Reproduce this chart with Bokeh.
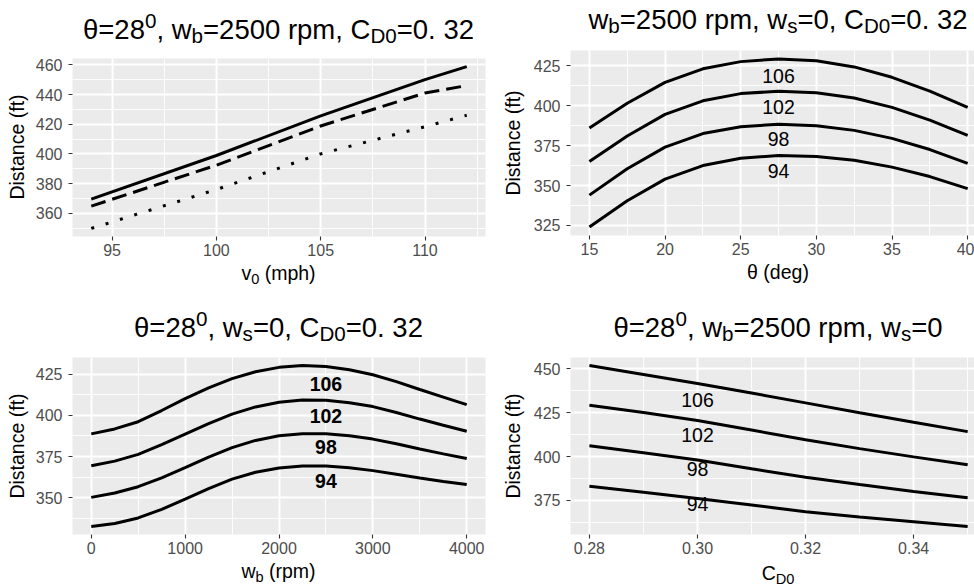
from bokeh.plotting import figure
from bokeh.models import Range1d, FixedTicker, PrintfTickFormatter, Div
from bokeh.layouts import column, row
from bokeh.core.properties import value
from bokeh.embed import file_html
from bokeh.resources import INLINE

FONT = "Liberation Sans"

# ---------------- data ----------------
# Panel 1: distance vs launch speed
v0 = [94, 100, 105, 110, 112]
dist_solid = [369.5, 398.9, 425.6, 450.0, 458.8]
dist_dashed = [364.8, 392.4, 418.8, 441.0, 446.0]
dist_dotted = [349.8, 376.0, 400.0, 418.3, 426.0]
p1_xticks = [95, 100, 105, 110]
p1_xminor = [97.5, 102.5, 107.5, 112.5]
p1_yticks = [360, 380, 400, 420, 440, 460]
p1_yminor = [350, 370, 390, 410, 430, 450]

curve_labels = ["106", "102", "98", "94"]

# Panel 2: distance vs launch angle
theta = [15, 17.5, 20, 22.5, 25, 27.5, 30, 32.5, 35, 37.5, 40]
th_106 = [386.0, 401.5, 414.5, 423.0, 427.5, 429.2, 428.0, 424.2, 417.7, 409.1, 398.9]
th_102 = [365.0, 381.0, 394.5, 403.0, 407.5, 409.0, 408.0, 404.7, 398.9, 390.9, 381.4]
th_98 = [344.0, 360.5, 374.0, 382.5, 386.8, 388.3, 387.4, 384.5, 379.5, 372.5, 363.9]
th_94 = [324.0, 340.5, 354.0, 362.5, 367.0, 368.8, 368.2, 365.8, 361.5, 355.6, 348.1]
th_lab_x = [27.5, 27.5, 27.5, 27.5]
th_lab_y = [418.7, 399.3, 379.3, 359.3]
p2_xticks = [15, 20, 25, 30, 35, 40]
p2_xminor = [12.5, 17.5, 22.5, 27.5, 32.5, 37.5, 42.5]
p2_yticks = [325, 350, 375, 400, 425]
p2_yminor = [312.5, 337.5, 362.5, 387.5, 412.5, 437.5]

# Panel 3: distance vs backspin
wb = [0, 250, 500, 750, 1000, 1250, 1500, 1750, 2000, 2250, 2500, 2750, 3000,
      3250, 3500, 3750, 4000]
wb_106 = [388.8, 391.8, 396.2, 403.0, 410.2, 416.8, 422.4, 426.6, 429.3, 430.4,
          429.8, 427.8, 424.8, 420.6, 415.8, 411.2, 406.6]
wb_102 = [369.4, 372.2, 376.3, 382.2, 388.6, 395.0, 400.8, 405.2, 408.0, 409.4,
          409.2, 407.8, 405.4, 401.8, 397.8, 394.0, 390.4]
wb_98 = [350.1, 352.8, 356.6, 362.0, 368.2, 374.6, 380.4, 384.8, 387.6, 388.9,
         388.8, 387.6, 385.6, 382.8, 379.6, 376.6, 373.8]
wb_94 = [332.4, 334.2, 337.6, 342.8, 349.0, 355.4, 361.2, 365.4, 368.0, 369.2,
         369.2, 368.2, 366.4, 364.2, 361.9, 359.8, 357.9]
wb_lab_x = [2500, 2500, 2500, 2500]
wb_lab_y = [419.0, 399.5, 380.5, 360.0]
p3_xticks = [0, 1000, 2000, 3000, 4000]
p3_xminor = [500, 1500, 2500, 3500]
p3_yticks = [350, 375, 400, 425]
p3_yminor = [337.5, 362.5, 387.5, 412.5]

# Panel 4: distance vs drag coefficient
cd0 = [0.28, 0.29, 0.30, 0.31, 0.32, 0.33, 0.34, 0.35]
cd_106 = [451.9, 446.8, 441.7, 436.2, 430.6, 425.0, 419.5, 414.2]
cd_102 = [429.3, 425.1, 420.5, 415.1, 409.6, 404.5, 399.8, 395.3]
cd_98 = [406.2, 402.2, 398.0, 393.0, 388.2, 384.0, 380.1, 376.5]
cd_94 = [383.0, 379.6, 376.1, 372.3, 368.5, 365.5, 362.8, 360.1]
cd_lab_x = [0.30, 0.30, 0.30, 0.30]
cd_lab_y = [432.4, 412.5, 392.6, 372.7]
p4_xticks = [0.28, 0.30, 0.32, 0.34]
p4_xminor = [0.29, 0.31, 0.33, 0.35]
p4_yticks = [375, 400, 425, 450]
p4_yminor = [362.5, 387.5, 412.5, 437.5]

Y_TITLE = "Distance (ft)"

# ---------------- helpers ----------------
TS = 27.5    # title font size (px)
LS = 19.5    # axis-title font size (px)
TK = "16px"  # tick label font size
CL = "19.5px"  # curve label font size
SC = 0.75    # script scale
LW = 3.0     # curve line width
VIS = 0.971  # visible part of the right-hand panels (cut by the image edge)
COL_W = 487
ROW_H = 293


def expand(vals, mult=0.05):
    lo, hi = min(vals), max(vals)
    pad = (hi - lo) * mult
    return lo - pad, hi + pad


def rich_html(pieces, size, raise_=11, drop=4):
    small = size * SC
    out = []
    for t, k in pieces:
        if k == "n":
            out.append(t)
        elif k == "sup":
            out.append(f'<span style="font-size:{small:.1f}px;position:relative;top:-{raise_}px;">{t}</span>')
        else:
            out.append(f'<span style="font-size:{small:.1f}px;position:relative;top:{drop}px;">{t}</span>')
    return "".join(out)


def text_div(w, h, html, cx, baseline, size):
    # line-height == font-size: baseline sits at 0.8465 * size below the box top
    top = baseline - 0.8465 * size
    inner = (f'<div style="position:relative;width:{w}px;height:{h}px;margin:0;padding:0;">'
             f'<div style="position:absolute;left:{cx:.1f}px;top:{top:.1f}px;'
             f'transform:translateX(-50%);white-space:nowrap;font-family:\'{FONT}\';'
             f'font-size:{size}px;line-height:{size}px;color:black;">{html}</div></div>')
    return Div(text=inner, width=w, height=h, margin=0)


def ylab_div(w, h, cx, cy, size):
    inner = (f'<div style="position:relative;width:{w}px;height:{h}px;margin:0;padding:0;">'
             f'<div style="position:absolute;left:{cx:.1f}px;top:{cy:.1f}px;'
             f'transform:translate(-50%,-50%) rotate(-90deg);white-space:nowrap;'
             f'font-family:\'{FONT}\';font-size:{size}px;line-height:{size}px;color:black;">'
             f'{Y_TITLE}</div></div>')
    return Div(text=inner, width=w, height=h, margin=0)


def make_fig(w, h, xr, yr, borders, xt, xm, yt, ym, xfmt=None):
    l, r, t, b = borders
    p = figure(width=w, height=h, x_range=Range1d(*xr), y_range=Range1d(*yr),
               output_backend="svg", toolbar_location=None,
               min_border_left=l, min_border_right=r, min_border_top=t,
               min_border_bottom=b)
    p.background_fill_color = "#EBEBEB"
    p.border_fill_color = "white"
    p.outline_line_color = None
    p.xaxis.ticker = FixedTicker(ticks=xt, minor_ticks=xm)
    p.yaxis.ticker = FixedTicker(ticks=yt, minor_ticks=ym)
    if xfmt:
        p.xaxis.formatter = PrintfTickFormatter(format=xfmt)
    for ax in (p.xaxis, p.yaxis):
        ax.axis_line_color = None
        ax.major_tick_line_color = "#333333"
        ax.major_tick_line_width = 1.1
        ax.major_tick_out = 4
        ax.major_tick_in = 0
        ax.minor_tick_out = 0
        ax.minor_tick_in = 0
        ax.minor_tick_line_color = None
        ax.major_label_text_font = FONT
        ax.major_label_text_font_size = TK
        ax.major_label_text_color = "#4D4D4D"
    p.xaxis.major_label_standoff = 3
    p.yaxis.major_label_standoff = 6
    for g in (p.xgrid, p.ygrid):
        g.grid_line_color = "white"
        g.grid_line_width = 1.9
        g.minor_grid_line_color = "white"
        g.minor_grid_line_width = 0.9
    return p


def panel(xr_vis, yr, ylab_w, ylab_cx, frame_left, r, top, frame_h,
          title_html, title_above, xl_html, xl_below, ticks, xfmt=None):
    w = COL_W - ylab_w
    l = frame_left - ylab_w
    t_h = top - 8
    main_h = 8 + frame_h + 26
    xl_h = ROW_H - t_h - main_h
    fw_full = (w - l - r) / (VIS if r == 0 else 1.0)
    cx = l + fw_full / 2
    mfig = make_fig(w, main_h, xr_vis, yr, (l, r, 8, 26), *ticks, xfmt=xfmt)
    tdiv = text_div(w, t_h, title_html, cx, t_h - (title_above - 8), TS)
    xdiv = text_div(w, xl_h, xl_html, cx, xl_below - 26, LS)
    ydiv = ylab_div(ylab_w, ROW_H, ylab_cx, top + frame_h / 2, LS)
    return mfig, row(ydiv, column(tdiv, mfig, xdiv))


# ---------------- panel 1 ----------------
x1 = expand(v0)
y1 = expand(dist_solid + dist_dashed + dist_dotted)
p1, c1 = panel(x1, y1, 30, 17.5, 72, 2, 58, 178,
               rich_html([("\u03b8=28", "n"), ("0", "sup"), (", w", "n"), ("b", "sub"),
                          ("=2500 rpm, C", "n"), ("D0", "sub"), ("=0. 32", "n")], TS), 19,
               rich_html([("v", "n"), ("0", "sub"), (" (mph)", "n")], LS), 44,
               (p1_xticks, p1_xminor, p1_yticks, p1_yminor))
p1.line(v0, dist_solid, line_width=LW, color="black")
p1.line(v0, dist_dashed, line_width=LW, color="black", line_dash="15 7")
p1.line(v0, dist_dotted, line_width=LW, color="black", line_dash="3 12")

# ---------------- panel 2 ----------------
x2 = expand(theta)
y2 = expand(th_106 + th_102 + th_98 + th_94)
x2v = (x2[0], x2[0] + (x2[1] - x2[0]) * VIS)
p2, c2 = panel(x2v, y2, 40, 27, 83, 0, 50, 185,
               rich_html([("w", "n"), ("b", "sub"), ("=2500 rpm, w", "n"), ("s", "sub"),
                          ("=0, C", "n"), ("D0", "sub"), ("=0. 32", "n")], TS), 21,
               rich_html([("\u03b8 (deg)", "n")], LS), 44,
               (p2_xticks, p2_xminor, p2_yticks, p2_yminor))
for ys in (th_106, th_102, th_98, th_94):
    p2.line(theta, ys, line_width=LW, color="black")
p2.text(th_lab_x, th_lab_y, text=curve_labels, text_font=value(FONT),
        text_font_size=value(CL), text_align="center", text_baseline="middle",
        text_color="black")

# ---------------- panel 3 ----------------
x3 = expand(wb)
y3 = expand(wb_106 + wb_102 + wb_98 + wb_94)
p3, c3 = panel(x3, y3, 30, 17.5, 72, 2, 64, 177,
               rich_html([("\u03b8=28", "n"), ("0", "sup"), (", w", "n"), ("s", "sub"),
                          ("=0, C", "n"), ("D0", "sub"), ("=0. 32", "n")], TS), 20,
               rich_html([("w", "n"), ("b", "sub"), (" (rpm)", "n")], LS), 44,
               (p3_xticks, p3_xminor, p3_yticks, p3_yminor))
for ys in (wb_106, wb_102, wb_98, wb_94):
    p3.line(wb, ys, line_width=LW, color="black")
p3.text(wb_lab_x, wb_lab_y, text=curve_labels, text_font=value(FONT),
        text_font_size=value(CL), text_font_style="bold", text_align="center",
        text_baseline="middle", text_color="black")

# ---------------- panel 4 ----------------
x4 = expand(cd0)
y4 = expand(cd_106 + cd_102 + cd_98 + cd_94)
x4v = (x4[0], x4[0] + (x4[1] - x4[0]) * VIS)
p4, c4 = panel(x4v, y4, 40, 27, 83, 0, 64, 177,
               rich_html([("\u03b8=28", "n"), ("0", "sup"), (", w", "n"), ("b", "sub"),
                          ("=2500 rpm, w", "n"), ("s", "sub"), ("=0", "n")], TS), 20,
               rich_html([("C", "n"), ("D0", "sub")], LS), 46,
               (p4_xticks, p4_xminor, p4_yticks, p4_yminor), xfmt="%.2f")
for ys in (cd_106, cd_102, cd_98, cd_94):
    p4.line(cd0, ys, line_width=LW, color="black")
p4.text(cd_lab_x, cd_lab_y, text=curve_labels, text_font=value(FONT),
        text_font_size=value(CL), text_align="center", text_baseline="middle",
        text_color="black")

layout = column(row(c1, c2), row(c3, c4))
open("out.html", "w").write(file_html(layout, INLINE))
